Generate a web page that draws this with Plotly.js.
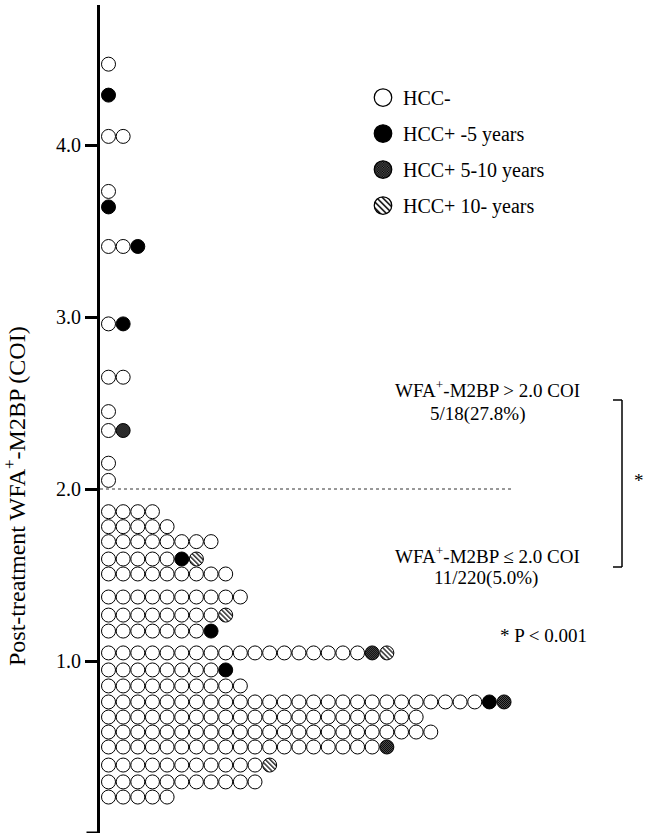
<!DOCTYPE html>
<html>
<head>
<meta charset="utf-8">
<script src="https://cdn.plot.ly/plotly-3.0.1.min.js"></script>
<style>
  html, body { margin: 0; padding: 0; background: #fff; }
  #chart { width: 645px; height: 837px; }
</style>
</head>
<body>
<svg width="0" height="0" style="position:absolute">
  <defs>
    <pattern id="hatchFill" patternUnits="userSpaceOnUse" width="3.4" height="3.4" patternTransform="rotate(-45)">
      <rect width="3.4" height="3.4" fill="#ffffff"></rect>
      <line x1="0.8" y1="0" x2="0.8" y2="3.4" stroke="#000" stroke-width="1.2"></line>
    </pattern>
    <pattern id="dotFill" patternUnits="userSpaceOnUse" width="2" height="2">
      <rect width="2" height="2" fill="#555"></rect>
      <rect x="0" y="0" width="1" height="1" fill="#000"></rect>
      <rect x="1" y="1" width="1" height="1" fill="#000"></rect>
    </pattern>
  </defs>
</svg>
<div id="chart"></div>
<script>
// ---- data (one entry per horizontal row of dots) ----
const rowValues   = [4.47, 4.29, 4.05, 3.73, 3.64, 3.41, 2.96, 2.65, 2.45, 2.34, 2.15, 2.05,
                     1.868, 1.781, 1.694, 1.593, 1.506, 1.372, 1.267, 1.174, 1.047, 0.948,
                     0.855, 0.762, 0.674, 0.587, 0.500, 0.395, 0.297, 0.209];
const hccNeg      = [1, 0, 2, 1, 0, 2, 1, 2, 1, 1, 1, 1,
                     4, 5, 8, 5, 9, 10, 8, 7, 18, 8,
                     10, 26, 22, 23, 19, 11, 11, 5];
const hccPos0to5  = [0, 1, 0, 0, 1, 1, 1, 0, 0, 0, 0, 0,
                     0, 0, 0, 1, 0, 0, 0, 1, 0, 1,
                     0, 1, 0, 0, 0, 0, 0, 0];
const hccPos5to10 = [0, 0, 0, 0, 0, 0, 0, 0, 0, 1, 0, 0,
                     0, 0, 0, 0, 0, 0, 0, 0, 1, 0,
                     0, 1, 0, 0, 1, 0, 0, 0];
const hccPos10up  = [0, 0, 0, 0, 0, 0, 0, 0, 0, 0, 0, 0,
                     0, 0, 0, 1, 0, 0, 1, 0, 1, 0,
                     0, 0, 0, 0, 0, 1, 0, 0];
const groupNames  = ['HCC-', 'HCC+ -5 years', 'HCC+ 5-10 years', 'HCC+ 10- years'];
const yTickVals   = [1, 2, 3, 4];
const yTickText   = ['1.0', '2.0', '3.0', '4.0'];
const cutoff      = 2.0;

// ---- stack dots left to right within each row ----
const groups = [hccNeg, hccPos0to5, hccPos5to10, hccPos10up];
const pts = groups.map(() => ({x: [], y: []}));
rowValues.forEach((v, r) => {
  let k = 0;
  groups.forEach((g, gi) => {
    for (let i = 0; i < g[r]; i++) { pts[gi].x.push(k); pts[gi].y.push(v); k++; }
  });
});

const W = 645, H = 837, L = 100, R = 25, T = 5, B = 4;
const pw = W - L - R, ph = H - T - B;
const slot = 14.65;
const x0 = -8.5 / slot;
const yMax = ph / 172;
const px = p => (p - L) / pw;
const py = p => 1 - (p - T) / ph;

const FONT = 'Liberation Serif, Times New Roman, serif';
const fills = ['#ffffff', '#000000', '#333333', '#dddddd'];

const traces = groups.map((g, gi) => ({
  type: 'scatter', mode: 'markers', name: groupNames[gi], legendgroup: 'g' + gi,
  x: pts[gi].x, y: pts[gi].y,
  marker: {size: 14, color: fills[gi], line: {color: '#000', width: 1}},
  hoverinfo: 'y', cliponaxis: false
}));

const annFont = {family: FONT, size: 19, color: '#000'};
const layout = {
  width: W, height: H,
  margin: {l: L, r: R, t: T, b: B},
  paper_bgcolor: '#fff', plot_bgcolor: '#fff',
  font: {family: FONT, color: '#000'},
  showlegend: true,
  legend: {x: px(363), xanchor: 'left', y: py(78), yanchor: 'top',
           font: {family: FONT, size: 20, color: '#000'},
           traceorder: 'grouped', tracegroupgap: 7, bgcolor: 'rgba(0,0,0,0)'},
  xaxis: {visible: false, range: [x0, x0 + pw / slot], fixedrange: true},
  yaxis: {range: [0, yMax], showgrid: false, zeroline: false,
          showline: true, linewidth: 3, linecolor: '#000',
          ticks: 'outside', ticklen: 12, tickwidth: 3, tickcolor: '#000',
          tickvals: yTickVals, ticktext: yTickText,
          tickfont: {family: FONT, size: 20, color: '#000'}},
  shapes: [
    {type: 'line', xref: 'paper', yref: 'y', x0: px(86.5), x1: 0, y0: 0, y1: 0,
     line: {color: '#000', width: 3}},
    {type: 'line', xref: 'paper', yref: 'y', x0: 0, x1: px(513), y0: cutoff, y1: cutoff,
     line: {color: '#333', width: 1, dash: 'dot'}},
    {type: 'line', xref: 'paper', yref: 'paper', x0: px(622), x1: px(622), y0: py(400), y1: py(567),
     line: {color: '#000', width: 1.5}},
    {type: 'line', xref: 'paper', yref: 'paper', x0: px(613), x1: px(622), y0: py(400), y1: py(400),
     line: {color: '#000', width: 1.5}},
    {type: 'line', xref: 'paper', yref: 'paper', x0: px(613), x1: px(622), y0: py(567), y1: py(567),
     line: {color: '#000', width: 1.5}}
  ],
  annotations: [
    {text: 'WFA<sup>+</sup>-M2BP > 2.0 COI', x: px(487), y: py(389)},
    {text: '5/18(27.8%)', x: px(478), y: py(414)},
    {text: 'WFA<sup>+</sup>-M2BP ≤ 2.0 COI', x: px(487), y: py(555)},
    {text: '11/220(5.0%)', x: px(486), y: py(578)},
    {text: '*', x: px(639), y: py(480)},
    {text: '* P < 0.001', x: px(543), y: py(635)},
    {text: 'Post-treatment WFA<sup>+</sup>-M2BP (COI)', x: px(15), y: py(496), textangle: -90,
     font: {family: FONT, size: 24, color: '#000'}}
  ].map(a => Object.assign({xref: 'paper', yref: 'paper', showarrow: false,
                            xanchor: 'center', yanchor: 'middle', font: annFont}, a))
};

Plotly.newPlot('chart', traces, layout, {displayModeBar: false, staticPlot: true}).then(gd => {
  const patterned = {2: 'url(#dotFill)', 3: 'url(#hatchFill)'};
  const tr = gd.querySelectorAll('.scatterlayer .trace');
  tr.forEach((t, i) => {
    if (patterned[i]) t.querySelectorAll('path.point').forEach(p => { p.style.fill = patterned[i]; });
  });
  const lg = gd.querySelectorAll('.legend .traces');
  lg.forEach((t, i) => {
    t.querySelectorAll('.legendpoints path').forEach(p => {
      if (patterned[i]) p.style.fill = patterned[i];
      const tf = p.getAttribute('transform') || '';
      p.setAttribute('transform', tf + ' scale(1.25)');
    });
  });
});
</script>
</body>
</html>
